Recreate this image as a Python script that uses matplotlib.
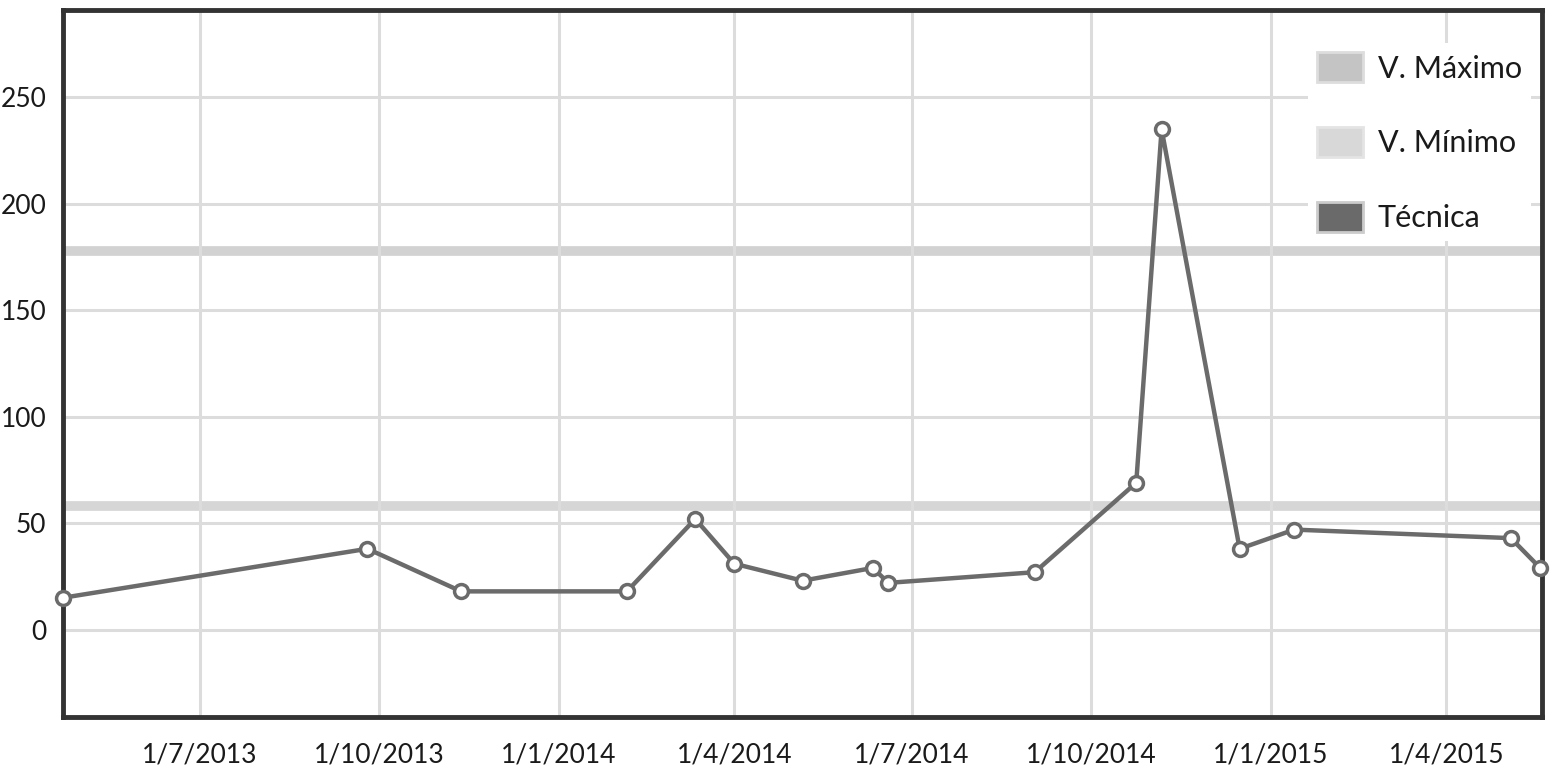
import numpy as np
import pandas as pd
import matplotlib
matplotlib.use('Agg')
from matplotlib import pyplot as plt
from matplotlib.patches import Patch

plt.rcParams['font.family'] = ['Lato', 'DejaVu Sans']

# data
fechas = ['2013-04-22', '2013-09-25', '2013-11-12', '2014-02-05', '2014-03-12',
          '2014-04-01', '2014-05-06', '2014-06-11', '2014-06-19', '2014-09-02',
          '2014-10-24', '2014-11-06', '2014-12-16', '2015-01-13', '2015-05-04',
          '2015-05-19']
tecnica = [15, 38, 18, 18, 52, 31, 23, 29, 22, 27, 69, 235, 38, 47, 43, 29]
v_maximo = 178
v_minimo = 58
ticks_x = ['2013-07-01', '2013-10-01', '2014-01-01', '2014-04-01', '2014-07-01',
           '2014-10-01', '2015-01-01', '2015-04-01']
ticks_y = [0, 50, 100, 150, 200, 250]

x = pd.to_datetime(fechas)
tx = pd.to_datetime(ticks_x)

fig = plt.figure(figsize=(15.64, 7.69), dpi=100)
ax = fig.add_axes([0.0403, 0.0676, 0.9457, 0.9194])

ax.set_xlim(pd.Timestamp('2013-04-22'), pd.Timestamp('2015-05-20'))
ax.set_ylim(-41, 291)

ax.set_xticks(tx)
ax.set_xticklabels([f'{d.day}/{d.month}/{d.year}' for d in tx])
ax.set_yticks(ticks_y)
ax.grid(True, color='#dcdcdc', linewidth=2.2, zorder=0)
ax.tick_params(length=0, labelsize=19, colors='#1a1a1a')
ax.tick_params(axis='y', pad=12)
ax.tick_params(axis='x', pad=18)

ax.axhline(v_maximo, color='#d2d2d2', linewidth=7, zorder=1)
ax.axhline(v_minimo, color='#d6d6d6', linewidth=7, zorder=1)

ax.plot(x, tecnica, color='#6b6b6b', linewidth=3.2, marker='o', markersize=10,
        markerfacecolor='white', markeredgecolor='#6b6b6b', markeredgewidth=2.5,
        zorder=3, clip_on=False)

for s in ax.spines.values():
    s.set_linewidth(3.5)
    s.set_color('#333333')

handles = [Patch(facecolor='#c4c4c4', edgecolor='#dddddd', linewidth=2),
           Patch(facecolor='#d8d8d8', edgecolor='#e4e4e4', linewidth=2),
           Patch(facecolor='#6a6a6a', edgecolor='#cccccc', linewidth=2)]
leg = ax.legend(handles, ['V. Máximo', 'V. Mínimo', 'Técnica'],
                loc='upper right', bbox_to_anchor=(1.003, 0.975), fontsize=22,
                frameon=True, framealpha=1, facecolor='white', edgecolor='none',
                fancybox=False, labelspacing=1.45, handlelength=1.5,
                handleheight=1.15, handletextpad=0.5, borderpad=0.3)
for t in leg.get_texts():
    t.set_color('#1a1a1a')
leg.set_zorder(5)

plt.savefig('out.png', dpi=100)
